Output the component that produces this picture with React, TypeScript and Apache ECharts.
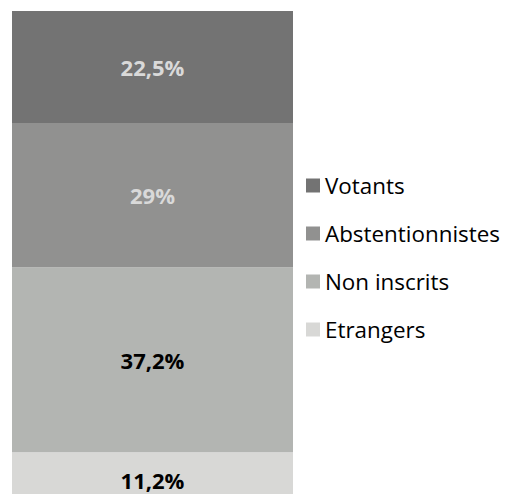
import React, { useEffect, useRef } from "react";
import * as echarts from "echarts";

const categories = ["Population"];
const seriesNames = ["Etrangers", "Non inscrits", "Abstentionnistes", "Votants"];
const seriesValues = [11.2, 37.2, 29, 22.5];
const seriesColors = ["#d8d8d6", "#b3b5b2", "#919190", "#737373"];
const labelColors = ["#000000", "#000000", "#d9d9d9", "#d9d9d9"];
const legendOrder = ["Votants", "Abstentionnistes", "Non inscrits", "Etrangers"];

export default function App() {
  const ref = useRef<HTMLDivElement>(null);
  useEffect(() => {
    if (!ref.current) return;
    const chart = echarts.init(ref.current, undefined, { renderer: "svg" });
    const total = seriesValues.reduce((a, b) => a + b, 0);
    chart.setOption({
      animation: false,
      grid: { left: 12, width: 281, top: 11, bottom: 0 },
      xAxis: {
        type: "category",
        data: categories,
        show: false,
      },
      yAxis: { type: "value", min: 0, max: total, show: false },
      legend: {
        orient: "vertical",
        left: 306,
        top: 174,
        padding: 0,
        itemWidth: 14,
        itemHeight: 14,
        itemGap: 25,
        icon: "rect",
        data: legendOrder,
        textStyle: {
          fontFamily: "Open Sans",
          fontSize: 22.4,
          lineHeight: 23,
          color: "#000000",
        },
      },
      series: seriesNames.map((name, i) => ({
        name,
        type: "bar",
        stack: "total",
        barWidth: "100%",
        barCategoryGap: 0,
        data: [seriesValues[i]],
        itemStyle: { color: seriesColors[i] },
        label: {
          show: true,
          position: "inside",
          fontFamily: "Open Sans",
          fontWeight: "bold",
          fontSize: 22,
          color: labelColors[i],
          formatter: (p: any) => String(p.value).replace(".", ",") + "%",
        },
      })),
    });
    return () => chart.dispose();
  }, []);
  return (
    <div style={{ width: 510, height: 502, overflow: "hidden", margin: -8 }}>
      <div ref={ref} style={{ width: 510, height: 508 }} />
    </div>
  );
}
